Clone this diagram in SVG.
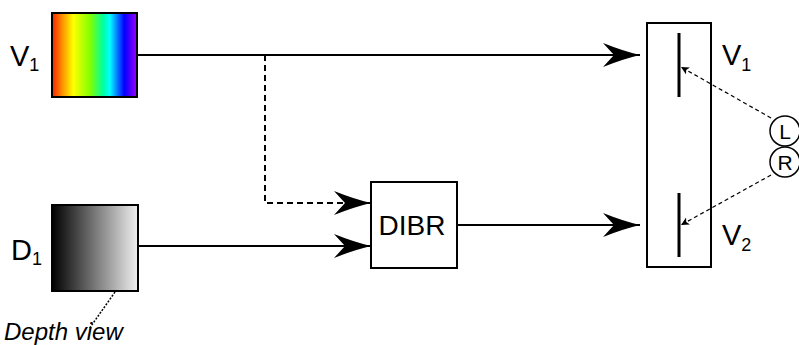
<svg xmlns="http://www.w3.org/2000/svg" width="799" height="345" viewBox="0 0 799 345">
<style>
  .lbl { font-family: "Liberation Sans", Arial, sans-serif; fill: #000; }
  .box { fill: #fff; stroke: #000; stroke-width: 2; }
  .conn { fill: none; stroke: #000; stroke-width: 2; }
  .thin { fill: none; stroke: #000; stroke-width: 1.2; stroke-dasharray: 4 3; }
</style>
<defs>
  <linearGradient id="rainbow" x1="0" y1="0" x2="1" y2="0">
    <stop offset="0" stop-color="#ff2000"/>
    <stop offset="0.12" stop-color="#ff9000"/>
    <stop offset="0.25" stop-color="#ffff00"/>
    <stop offset="0.45" stop-color="#80ff00"/>
    <stop offset="0.6" stop-color="#00ffa0"/>
    <stop offset="0.68" stop-color="#00ffff"/>
    <stop offset="0.85" stop-color="#0000ff"/>
    <stop offset="1" stop-color="#a000ff"/>
  </linearGradient>
  <linearGradient id="gray" x1="0" y1="0" x2="1" y2="0">
    <stop offset="0" stop-color="#000"/>
    <stop offset="1" stop-color="#f0f0f0"/>
  </linearGradient>
  <marker id="big" markerUnits="userSpaceOnUse" markerWidth="40" markerHeight="26" refX="37" refY="12" orient="auto">
    <path d="M0,0 Q20,8 37,12 Q20,16 0,24 L11,12 Z" fill="#000"/>
  </marker>
  <marker id="small" markerUnits="userSpaceOnUse" markerWidth="10" markerHeight="10" refX="8" refY="4" orient="auto">
    <path d="M0,0 L8,4 L0,8 L2,4 Z" fill="#000"/>
  </marker>
</defs>

<g id="node-v1">
  <rect x="52" y="13" width="85" height="84" fill="url(#rainbow)" stroke="#000" stroke-width="2"/>
  <text class="lbl" x="10" y="66" font-size="29">V<tspan font-size="18" dy="5">1</tspan></text>
</g>

<g id="node-d1">
  <rect x="52" y="205" width="86" height="86" fill="url(#gray)" stroke="#000" stroke-width="2"/>
  <text class="lbl" x="11" y="260" font-size="29">D<tspan font-size="18" dy="5">1</tspan></text>
  <text class="lbl" x="4" y="340" font-size="24" font-style="italic">Depth view</text>
</g>

<g id="node-dibr">
  <rect class="box" x="371" y="182" width="86" height="86"/>
  <text class="lbl" x="412" y="235" font-size="28" text-anchor="middle">DIBR</text>
</g>

<g id="node-display">
  <rect x="647" y="23" width="64" height="244" fill="none" stroke="#000" stroke-width="2"/>
  <line x1="679" y1="33" x2="679" y2="97" stroke="#000" stroke-width="3"/>
  <line x1="679" y1="193" x2="679" y2="257" stroke="#000" stroke-width="3"/>
  <text class="lbl" x="722" y="65" font-size="29">V<tspan font-size="18" dy="6">1</tspan></text>
  <text class="lbl" x="722" y="245" font-size="29">V<tspan font-size="18" dy="6">2</tspan></text>
</g>

<g id="node-l">
  <circle cx="785" cy="131" r="15" fill="#fff" stroke="#000" stroke-width="1.5"/>
  <text class="lbl" x="785" y="138.5" font-size="21" text-anchor="middle">L</text>
</g>

<g id="node-r">
  <circle cx="785" cy="162" r="15" fill="#fff" stroke="#000" stroke-width="1.5"/>
  <text class="lbl" x="785" y="169.5" font-size="21" text-anchor="middle">R</text>
</g>

<g id="connectors">
  <path class="conn" d="M137,55 H640" marker-end="url(#big)"/>
  <path class="conn" d="M265,55 V203 H371" stroke-dasharray="6 4" marker-end="url(#big)"/>
  <path class="conn" d="M138,246 H371" marker-end="url(#big)"/>
  <path class="conn" d="M457,225 H640" marker-end="url(#big)"/>
  <path class="thin" d="M771,118 L681,67" marker-end="url(#small)"/>
  <path class="thin" d="M771,175 L681,225" marker-end="url(#small)"/>
  <path fill="none" stroke="#000" stroke-width="1.5" stroke-dasharray="2 1.5" d="M115,292 L89,329"/>
</g>
</svg>
